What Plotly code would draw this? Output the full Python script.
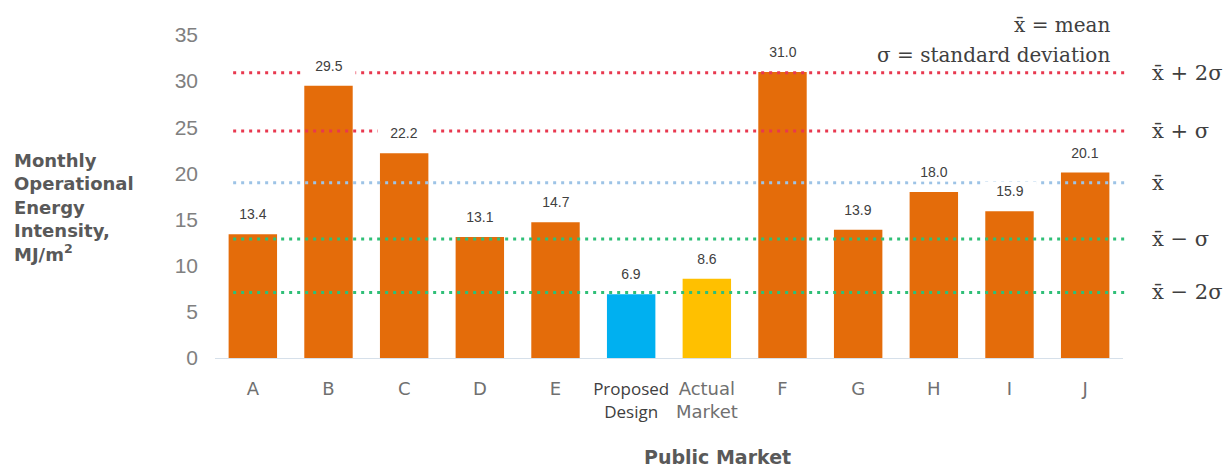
import plotly.graph_objects as go

# ---- data ----
categories = ["A", "B", "C", "D", "E", "Proposed Design", "Actual Market",
              "F", "G", "H", "I", "J"]
values = [13.4, 29.5, 22.2, 13.1, 14.7, 6.9, 8.6, 31.0, 13.9, 18.0, 15.9, 20.1]
bar_colors = ["#E46C0A"] * 5 + ["#00B0F0", "#FFC000"] + ["#E46C0A"] * 5

ref_names = ["x\u0304 + 2\u03c3", "x\u0304 + \u03c3", "x\u0304",
             "x\u0304 \u2212 \u03c3", "x\u0304 \u2212 2\u03c3"]
ref_values = [30.9, 24.6, 19.0, 12.9, 7.1]
ref_colors = ["#E8384F", "#E8384F", "#9DC3E6", "#2FBF78", "#2FBF78"]

y_ticks = [0, 5, 10, 15, 20, 25, 30, 35]

tick_text = []
for c in categories:
    if c == "Proposed Design":
        tick_text.append("<span style='font-family:Open Sans;color:#404040;font-size:17px'>Proposed<br>Design</span>")
    elif c == "Actual Market":
        tick_text.append("Actual<br>Market")
    else:
        tick_text.append(c)

fig = go.Figure()
fig.add_trace(go.Bar(
    x=categories, y=values, marker=dict(color=bar_colors, line=dict(width=0)),
    width=0.64, hoverinfo="x+y", showlegend=False,
))

shapes = []
for v, col in zip(ref_values, ref_colors):
    shapes.append(dict(type="line", xref="paper", yref="y",
                       x0=0.02, x1=1.004, y0=v, y1=v,
                       line=dict(color=col, width=3, dash="3px,5px"),
                       layer="above"))

annotations = []
for c, v in zip(categories, values):
    annotations.append(dict(x=c, y=v, xref="x", yref="y", text=f"{v:.1f}",
                            yshift=20, showarrow=False, bgcolor="white",
                            width=50, borderpad=1, yanchor="middle",
                            font=dict(family="Liberation Sans", size=14, color="#404040")))

for name, v in zip(ref_names, ref_values):
    annotations.append(dict(x=1.03, y=v, xref="paper", yref="y", text=name,
                            xanchor="left", yanchor="middle", showarrow=False,
                            font=dict(family="DejaVu Serif", size=21, color="#404040")))

annotations.append(dict(x=0.988, y=1.03, xref="paper", yref="paper",
                        text="x\u0304 = mean", xanchor="right", yanchor="middle",
                        showarrow=False,
                        font=dict(family="DejaVu Serif", size=20, color="#404040")))
annotations.append(dict(x=0.988, y=0.937, xref="paper", yref="paper",
                        text="\u03c3 = standard deviation", xanchor="right", yanchor="middle",
                        showarrow=False,
                        font=dict(family="DejaVu Serif", size=20, color="#404040")))

annotations.append(dict(x=-0.2236, y=0.467, xref="paper", yref="paper",
                        text="<b>Monthly<br>Operational<br>Energy<br>Intensity,<br>MJ/m<sup>2</sup></b>",
                        xanchor="left", yanchor="middle", align="left", showarrow=False,
                        font=dict(family="DejaVu Sans", size=18, color="#595959")))

annotations.append(dict(x=0.553, y=-0.306, xref="paper", yref="paper",
                        text="<b>Public Market</b>", xanchor="center", yanchor="middle",
                        showarrow=False,
                        font=dict(family="DejaVu Sans", size=19, color="#595959")))

fig.update_layout(
    width=1230, height=470,
    margin=dict(l=215, r=107, t=35, b=112),
    paper_bgcolor="white", plot_bgcolor="white",
    bargap=0.36,
    shapes=shapes, annotations=annotations,
    xaxis=dict(tickmode="array", tickvals=categories, ticktext=tick_text,
               range=[-0.5, 11.5], showgrid=False, zeroline=False,
               showline=True, linecolor="#D6E0EA", linewidth=1, ticks="",
               ticklabelstandoff=14,
               tickfont=dict(family="DejaVu Sans", size=18, color="#707070")),
    yaxis=dict(range=[0, 35], tickmode="array", tickvals=y_ticks,
               showgrid=False, zeroline=False, showline=False, ticks="",
               ticklabelstandoff=16,
               tickfont=dict(family="Liberation Sans", size=21, color="#808080")),
)

fig.write_html("out.html")
